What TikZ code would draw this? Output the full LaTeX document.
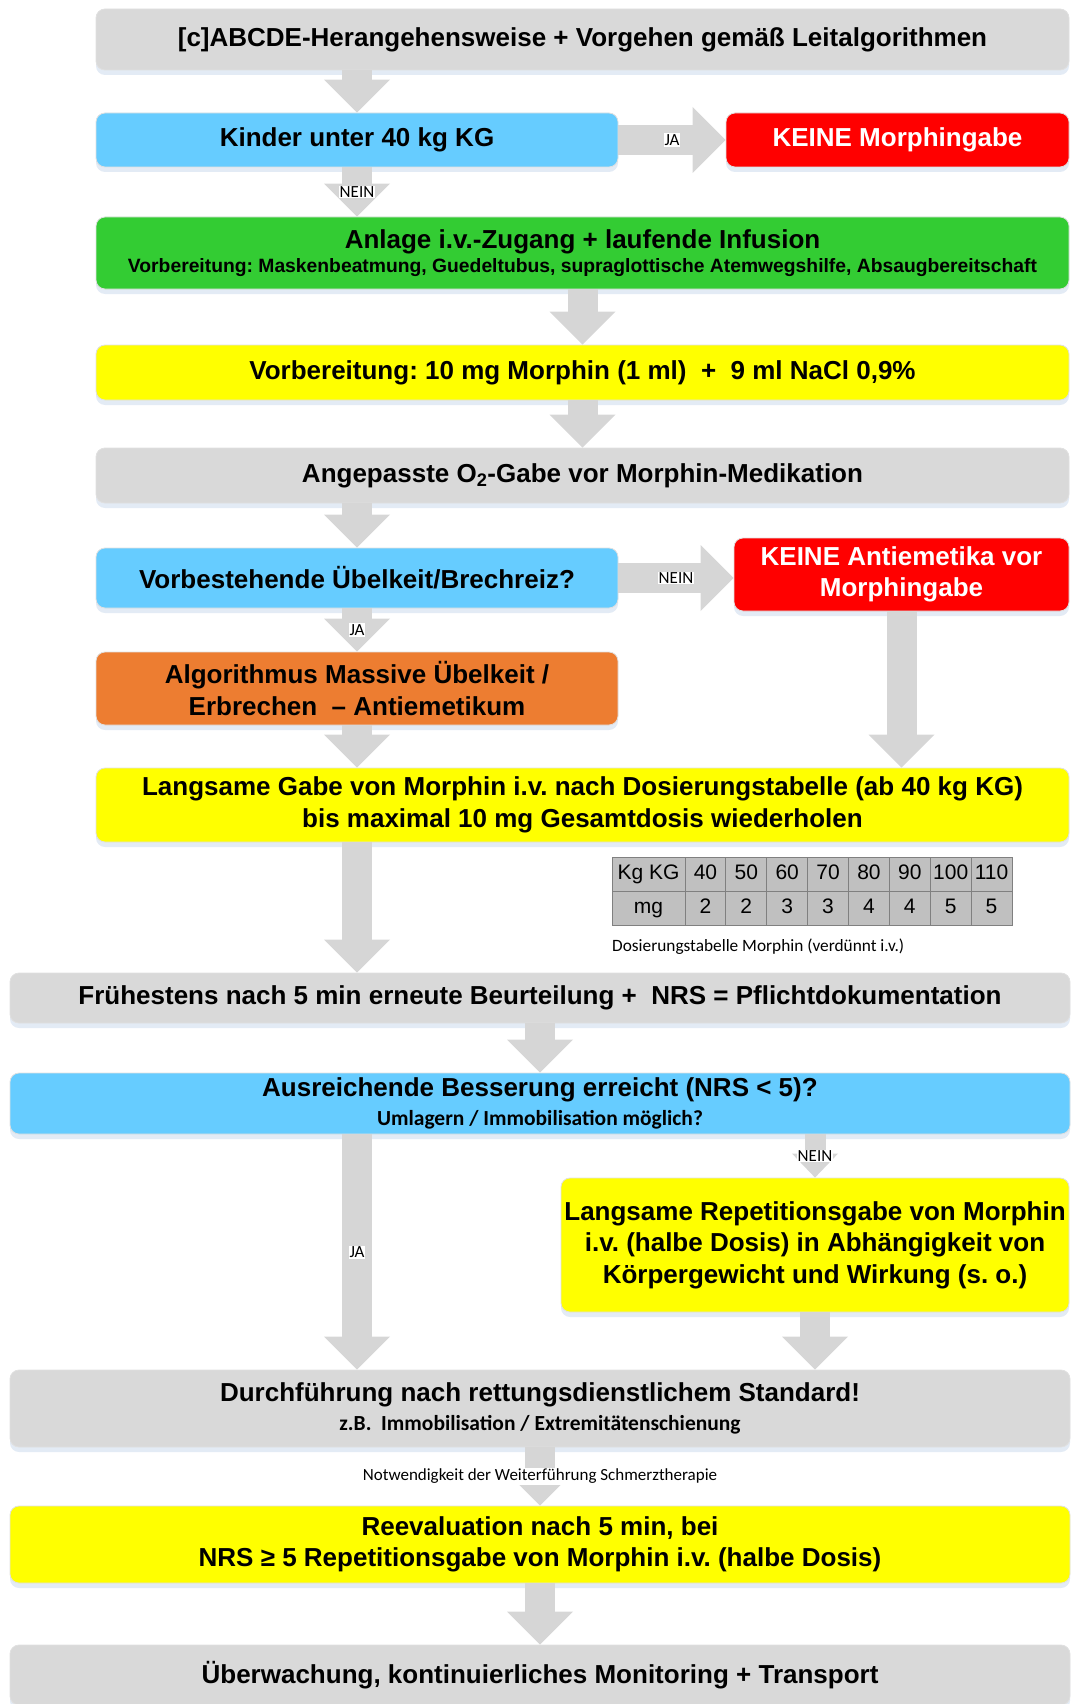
\documentclass[tikz,border=0pt]{standalone}
\usepackage{fontspec}
\setmainfont{Liberation Sans}
\newfontfamily\calibri{Carlito}
\usetikzlibrary{arrows.meta,shadows}
\frenchspacing
\definecolor{boxgrey}{HTML}{D9D9D9}
\definecolor{boxblue}{HTML}{66CCFF}
\definecolor{boxgreen}{HTML}{33CC33}
\definecolor{boxyellow}{HTML}{FFFF00}
\definecolor{boxorange}{HTML}{ED7D31}
\definecolor{boxred}{HTML}{FF0000}
\definecolor{arrowgrey}{HTML}{D6D6D6}
\definecolor{cellgrey}{HTML}{C0C0C0}
\definecolor{cellline}{HTML}{808080}
\definecolor{shadowblue}{HTML}{DCE6F2}
\newcommand\mainsize{\fontsize{26}{31.5}\selectfont}
\newcommand\subsize{\fontsize{19.3}{23}\selectfont}
\newcommand\calsub{\calibri\bfseries\fontsize{21.5}{25}\selectfont}
\tikzset{
  box/.style={draw=black!12, line width=0.8pt, rounded corners=9pt, inner sep=0pt, align=center,
    font=\mainsize\bfseries, drop shadow={shadow xshift=0pt, shadow yshift=-5pt, fill=shadowblue, draw=none, opacity=0.8}},
  greybox/.style={box, fill=boxgrey},
  bluebox/.style={box, fill=boxblue},
  greenbox/.style={box, fill=boxgreen},
  yellowbox/.style={box, fill=boxyellow},
  orangebox/.style={box, fill=boxorange},
  redbox/.style={box, fill=boxred, text=white},
  flow/.style={draw=arrowgrey, line width=30pt, -{Triangle[length=33pt, width=66pt, line width=0pt]}},
  flowthin/.style={draw=arrowgrey, line width=21pt, -{Triangle[length=24pt, width=46pt, line width=0pt]}},
  lbl/.style={fill=white, inner sep=1pt, font=\calibri\fontsize{17}{19}\selectfont},
  cell/.style={draw=cellline, fill=cellgrey, line width=0.8pt, minimum height=34pt, inner sep=0pt,
    text height=15pt, text depth=4pt, font=\fontsize{21}{24}\selectfont},
  tabcaption/.style={inner sep=0pt, font=\calibri\fontsize{17.3}{19}\selectfont}
}
\begin{document}
\begin{tikzpicture}[x=1pt, y=-1pt]
  \useasboundingbox (0,0) rectangle (1071,1704);
  % boxes, top part
  \node[greybox, minimum width=973pt, minimum height=61pt] (abcde) at (582.5,39.5) {[c]ABCDE-Herangehensweise + Vorgehen gemäß Leitalgorithmen};
  \node[bluebox, minimum width=522pt, minimum height=54pt] (kinder) at (357,140) {Kinder unter 40 kg KG};
  \node[redbox, minimum width=343pt, minimum height=54pt] (keinemorph) at (897.5,140) {KEINE Morphingabe};
  \node[greenbox, minimum width=973pt, minimum height=72pt] (zugang) at (582.5,253) {Anlage i.v.-Zugang + laufende Infusion\\[-7pt]{\subsize Vorbereitung: Maskenbeatmung, Guedeltubus, supraglottische Atemwegshilfe, Absaugbereitschaft}};
  \node[yellowbox, minimum width=973pt, minimum height=55pt] (morphin) at (582.5,372.5) {Vorbereitung: 10 mg Morphin (1 ml)~~+~~9 ml NaCl 0,9\%};
  \node[greybox, minimum width=973pt, minimum height=55pt] (sauerstoff) at (582.5,475.5) {Angepasste O\textsubscript{2}-Gabe vor Morphin-Medikation};
  \node[bluebox, minimum width=522pt, minimum height=60pt] (uebelkeit) at (357,578) {Vorbestehende Übelkeit/Brechreiz?};
  \node[redbox, minimum width=335pt, minimum height=73pt] (keineanti) at (901.5,574.5) {KEINE Antiemetika vor\\Morphingabe};
  \node[orangebox, minimum width=522pt, minimum height=73pt] (antiemet) at (357,688.5) {Algorithmus Massive Übelkeit /\\Erbrechen~~– Antiemetikum};
  \node[yellowbox, minimum width=973pt, minimum height=74pt] (gabe) at (582.5,805) {Langsame Gabe von Morphin i.v. nach Dosierungstabelle (ab 40 kg KG)\\bis maximal 10 mg Gesamtdosis wiederholen};

  % dosing table
  \node[cell, minimum width=73pt] (kg0) at (648.5,874) {Kg KG};
  \node[cell, minimum width=73pt] (mg0) at (648.5,908) {mg};
  \foreach \kg/\mg [count=\i] in {40/2,50/2,60/3,70/3,80/4,90/4,100/5,110/5} {
    \node[cell, minimum width=40.875pt] (kg\i) at ({685+(\i-0.5)*40.875},874) {\kg};
    \node[cell, minimum width=40.875pt] (mg\i) at ({685+(\i-0.5)*40.875},908) {\mg};
  }
  \node[tabcaption, anchor=west] (tabcap) at (612,947) {Dosierungstabelle Morphin (verdünnt i.v.)};

  % boxes, lower part
  \node[greybox, minimum width=1060pt, minimum height=50pt] (fruehestens) at (540,998) {Frühestens nach 5 min erneute Beurteilung +~~NRS = Pflichtdokumentation};
  \node[bluebox, minimum width=1060pt, minimum height=61pt] (besserung) at (540,1103.5) {Ausreichende Besserung erreicht (NRS < 5)?\\[-3pt]{\calsub Umlagern / Immobilisation möglich?}};
  \node[yellowbox, minimum width=508pt, minimum height=134pt] (repetition) at (815,1245) {Langsame Repetitionsgabe von Morphin\\i.v. (halbe Dosis) in Abhängigkeit von\\Körpergewicht und Wirkung (s. o.)};
  \node[greybox, minimum width=1060pt, minimum height=77pt] (durchf) at (540,1408.5) {Durchführung nach rettungsdienstlichem Standard!\\[-2pt]{\calsub z.B.~~Immobilisation / Extremitätenschienung}};
  \node[yellowbox, minimum width=1060pt, minimum height=77pt] (reeval) at (540,1544.5) {Reevaluation nach 5 min, bei\\NRS ≥ 5 Repetitionsgabe von Morphin i.v. (halbe Dosis)};
  \node[greybox, minimum width=1060pt, minimum height=60pt] (ueberw) at (540,1675) {Überwachung, kontinuierliches Monitoring + Transport};

  % block arrows
  \draw[flow] (kinder.north |- abcde.south) -- (kinder.north);
  \draw[flow] (kinder.east) -- (keinemorph.west) node[lbl, midway] {JA};
  \draw[flow] (kinder.south) -- (kinder.south |- zugang.north) node[lbl, midway] {NEIN};
  \draw[flow] (zugang.south) -- (morphin.north);
  \draw[flow] (morphin.south) -- (sauerstoff.north);
  \draw[flow] (uebelkeit.north |- sauerstoff.south) -- (uebelkeit.north);
  \draw[flow] (uebelkeit.east) -- (uebelkeit.east -| keineanti.west) node[lbl, midway] {NEIN};
  \draw[flow] (uebelkeit.south) -- (antiemet.north) node[lbl, midway] {JA};
  \draw[flow] (keineanti.south) -- (keineanti.south |- gabe.north);
  \draw[flow] (antiemet.south) -- (antiemet.south |- gabe.north);
  \draw[flow] (gabe.south -| antiemet) -- (fruehestens.north -| antiemet);
  \draw[flow] (fruehestens.south) -- (besserung.north);
  \draw[flow] (besserung.south -| kinder) -- (durchf.north -| kinder) node[lbl, midway] {JA};
  \draw[flowthin] (repetition.north |- besserung.south) -- (repetition.north) node[lbl, midway] {NEIN};
  \draw[flow] (repetition.south) -- (repetition.south |- durchf.north);
  \draw[flow] (durchf.south) -- (reeval.north) node[lbl, midway] {Notwendigkeit der Weiterführung Schmerztherapie};
  \draw[flow] (reeval.south) -- (ueberw.north);
\end{tikzpicture}
\end{document}
